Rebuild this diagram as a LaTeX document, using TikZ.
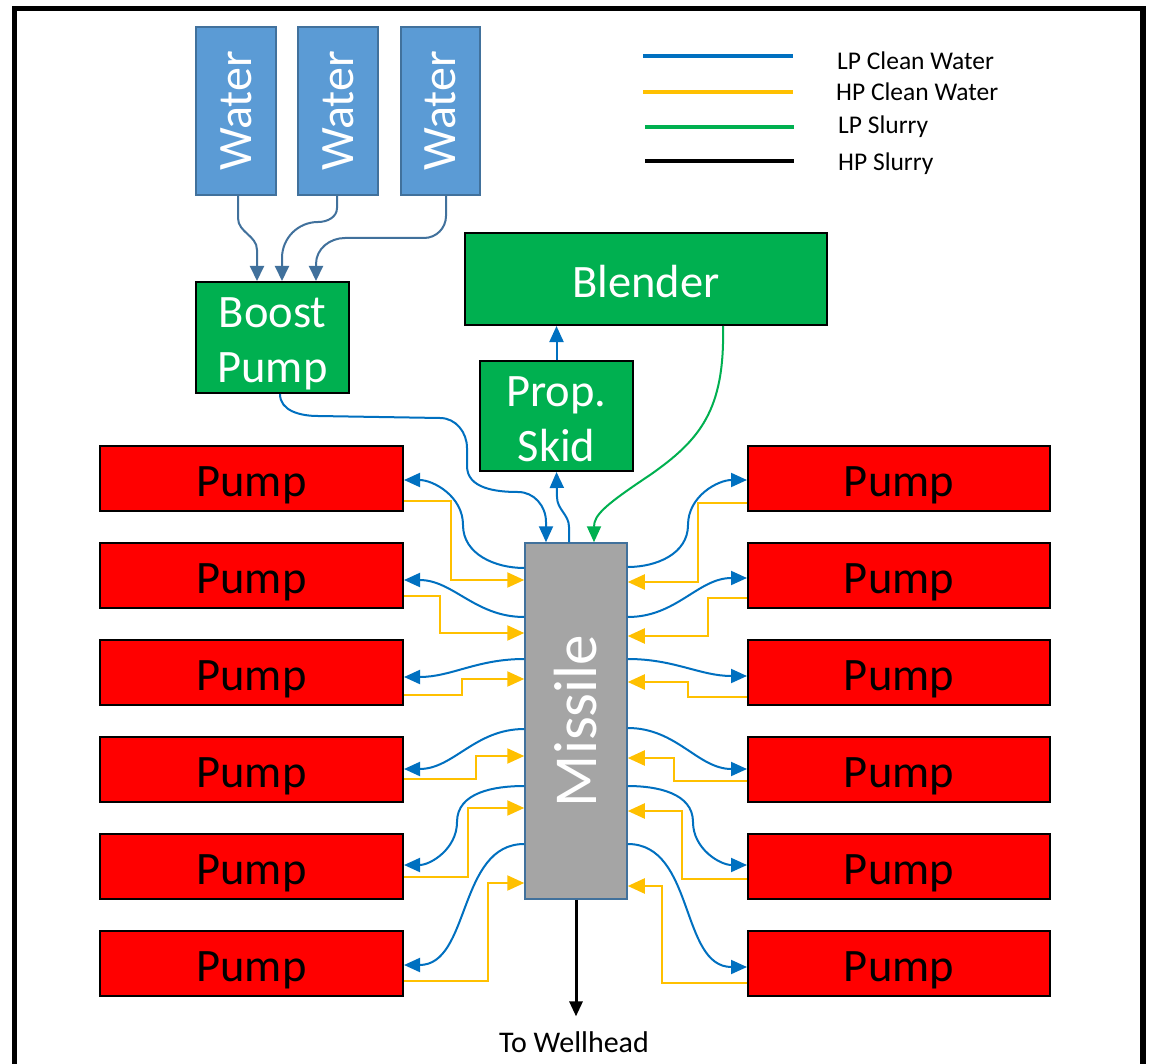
\documentclass[tikz,border=0pt]{standalone}
\usepackage{fontspec}
\setmainfont{Carlito}
\usepackage{graphicx}
\usetikzlibrary{arrows.meta,calc}
\definecolor{wfill}{HTML}{5B9BD5}
\definecolor{wline}{HTML}{41719C}
\definecolor{gfill}{HTML}{00B050}
\definecolor{mfill}{HTML}{A5A5A5}
\definecolor{lpblue}{HTML}{0070C0}
\definecolor{hpyellow}{HTML}{FFC000}
\definecolor{pumpred}{HTML}{FF0000}
\tikzset{
  box/.style={rectangle, inner sep=0pt, align=center},
  water/.style={box, draw=wline, fill=wfill, line width=1.5pt, minimum width=80pt, minimum height=168pt, text=white, font=\fontsize{48}{54}\selectfont},
  gbox/.style={box, draw=black, fill=gfill, line width=2pt},
  gtext/.style={inner sep=0pt, align=center, text=white, font=\fontsize{46.5}{55}\selectfont},
  pumpbox/.style={box, draw=black, fill=pumpred, line width=2pt, minimum width=303pt, minimum height=65pt},
  pumptext/.style={inner sep=0pt, text=black, text depth=0pt, font=\fontsize{46.5}{54}\selectfont},
  missilebox/.style={box, draw=wline, fill=mfill, line width=1.5pt, minimum width=102pt, minimum height=356pt, text=white, font=\fontsize{61}{70}\selectfont},
  legtext/.style={anchor=west, inner sep=0pt, text depth=0pt, font=\fontsize{25.5}{30}\selectfont},
  feed/.style={draw=wline, line width=2pt, -{Triangle[length=15pt,width=14pt]}},
  lp/.style={draw=lpblue, line width=2pt, -{Triangle[length=16pt,width=14pt]}},
  hp/.style={draw=hpyellow, line width=2.2pt, -{Triangle[length=17pt,width=15pt]}},
  lps/.style={draw=gfill, line width=2pt, -{Triangle[length=16pt,width=14pt]}},
  hps/.style={draw=black, line width=3pt, -{Triangle[length=15pt,width=13pt]}},
}
\begin{document}
\begin{tikzpicture}[x=1pt,y=-1pt]
\useasboundingbox (0,0) rectangle (1150,1064);
\fill[white] (0,0) rectangle (1150,1064);
% frame
\draw[line width=5.5pt] (14.5,1070) -- (14.5,8.5) -- (1143,8.5) -- (1143,1070);

% water tanks
\node[water] (W1) at (236,111) {\rotatebox{90}{Water}};
\node[water] (W2) at (338,111) {\rotatebox{90}{Water}};
\node[water, minimum width=79pt] (W3) at (440.5,111) {\rotatebox{90}{Water}};

% green boxes
\node[gbox, minimum width=153pt, minimum height=111pt] (Bp) at (272.5,337.5) {};
\node[gtext] (BpT) at ($(Bp.center)+(0,6)$) {Boost\\Pump};
\node[gbox, minimum width=362pt, minimum height=92pt] (Bl) at (646,279) {};
\node[gtext, text depth=0pt] (BlT) at ($(Bl.center)+(0,2)$) {Blender};
\node[gbox, minimum width=153pt, minimum height=110pt] (P) at (556.5,416) {};
\node[gtext] (PT) at ($(P.center)+(0,3.5)$) {Prop.\\Skid};

% missile
\node[missilebox] (M) at (576,721) {\rotatebox{90}{Missile}};

% pumps
\foreach \k in {1,...,6}{
  \pgfmathsetmacro{\yc}{478.5+97*(\k-1)}
  \node[pumpbox] (L\k) at (251.5,\yc) {};
  \node[pumptext] (LT\k) at ($(L\k.center)+(0,3)$) {Pump};
  \node[pumpbox, minimum width=302pt] (R\k) at (899,\yc) {};
  \node[pumptext] (RT\k) at ($(R\k.center)+(0,3)$) {Pump};
}

% legend
\draw[lpblue, line width=4pt] (643,56) -- (793,56);
\draw[hpyellow, line width=4pt] (643,92) -- (793,92);
\draw[gfill, line width=4pt] (645,127) -- (794,127);
\draw[black, line width=4pt] (645,161) -- (794,161);
\node[legtext] (t1) at (837,61) {LP Clean Water};
\node[legtext] (t2) at (836,92) {HP Clean Water};
\node[legtext] (t3) at (838,125) {LP Slurry};
\node[legtext] (t4) at (838,162) {HP Slurry};

% water -> boost
\draw[feed] (W1.south -| 238,0) -- (238,218) to[out=-90,in=90] (257,250) -- (Bp.north -| 257,0);
\draw[feed] (W2.south -| 337,0) -- (337,208) to[out=-90,in=0] (318,222) to[out=180,in=90] (282,258) -- (Bp.north -| 282,0);
\draw[feed] (W3.south -| 446,0) -- (446,216) to[out=-90,in=0] (424,238) -- (345,238) to[out=180,in=90] (316,264) -- (Bp.north -| 316,0);

% boost -> missile
\draw[lp] (Bp.south -| 280,0) to[out=-90,in=180] (318,416) -- (440,418) to[out=0,in=90] (467,448) -- (467,466) to[out=-90,in=180] (518,492) to[out=0,in=90] (546,522) -- (M.north -| 546,0);
% missile -> prop skid
\draw[lp] (M.north -| 569,0) -- (569,527) to[out=90,in=-90] (557,497) -- (P.south);
% prop skid -> blender
\draw[lp] (P.north) -- (Bl.south -| P.north);
% blender -> missile
\draw[lps] (Bl.south -| 723,0) .. controls (725,410) and (700,440) .. (650,475) .. controls (605,505) and (594,515) .. (M.north -| 594,0);
% missile -> wellhead
\node[inner sep=0pt, text depth=0pt, font=\fontsize{30}{36}\selectfont] (TW) at (574,1042) {To Wellhead};
\draw[hps, shorten >=15pt] (M.south) -- (TW.north -| M.south);

% left side
\draw[lp] (M.west |- 0,568) to[out=180,in=-90] (463,525) to[out=90,in=0] (L1.east |- 0,480);
\draw[hp] (L1.east |- 0,501) -| (451,580) -- (M.west |- 0,580);
\draw[lp] (M.west |- 0,617) to[out=180,in=0] (L2.east |- 0,580);
\draw[hp] (L2.east |- 0,596) -| (440,633) -- (M.west |- 0,633);
\draw[lp] (M.west |- 0,659) to[out=180,in=0] (L3.east |- 0,677);
\draw[hp] (L3.east |- 0,695) -| (462,679) -- (M.west |- 0,679);
\draw[lp] (M.west |- 0,729) to[out=180,in=0] (L4.east |- 0,769);
\draw[hp] (L4.east |- 0,779) -| (476,756) -- (M.west |- 0,756);
\draw[lp] (M.west |- 0,786) to[out=180,in=90] (457,822) to[out=-90,in=0] (L5.east |- 0,865);
\draw[hp] (L5.east |- 0,877) -| (468,808) -- (M.west |- 0,808);
\draw[lp] (M.west |- 0,844) to[out=180,in=0] (L6.east |- 0,965);
\draw[hp] (L6.east |- 0,981) -| (488,883) -- (M.west |- 0,883);

% right side
\draw[lp] (M.east |- 0,567) to[out=0,in=-90] (688,525) to[out=90,in=180] (R1.west |- 0,480);
\draw[hp] (R1.west |- 0,503) -| (698,582) -- (M.east |- 0,582);
\draw[lp] (M.east |- 0,617) to[out=0,in=180] (R2.west |- 0,578);
\draw[hp] (R2.west |- 0,598) -| (708,636) -- (M.east |- 0,636);
\draw[lp] (M.east |- 0,659) to[out=0,in=180] (R3.west |- 0,676);
\draw[hp] (R3.west |- 0,697) -| (688,682) -- (M.east |- 0,682);
\draw[lp] (M.east |- 0,728) to[out=0,in=180] (R4.west |- 0,769);
\draw[hp] (R4.west |- 0,781) -| (674,758) -- (M.east |- 0,758);
\draw[lp] (M.east |- 0,786) to[out=0,in=90] (693,822) to[out=-90,in=180] (R5.west |- 0,865);
\draw[hp] (R5.west |- 0,879) -| (682,811) -- (M.east |- 0,811);
\draw[lp] (M.east |- 0,844) to[out=0,in=180] (R6.west |- 0,967);
\draw[hp] (R6.west |- 0,983) -| (662,886) -- (M.east |- 0,886);
\end{tikzpicture}
\end{document}
